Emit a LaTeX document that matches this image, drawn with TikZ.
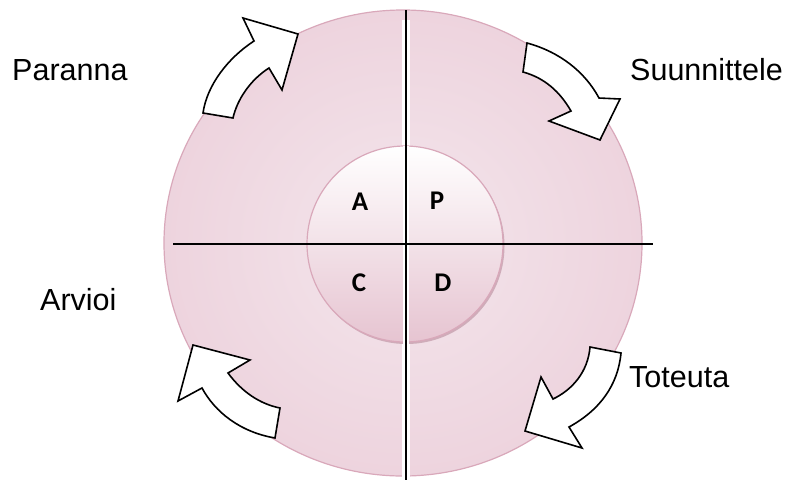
\documentclass[tikz,border=0pt]{standalone}
\usepackage{fontspec}
\setmainfont{Liberation Sans}
\newfontfamily\calib{Carlito}
\definecolor{pinkedge}{HTML}{D9A8BA}
\definecolor{pinkdark}{HTML}{E4BCCB}
\definecolor{pinkmid}{HTML}{ECD0DB}
\definecolor{pinklight}{HTML}{F4E6EC}
\definecolor{innerbot}{HTML}{E6C4D1}
\pgfdeclareradialshading{bigrad}{\pgfpoint{0bp}{0bp}}{color(0bp)=(pinklight); color(30bp)=(pinkmid); color(50bp)=(pinkdark); color(72bp)=(pinkdark)}
\tikzset{
  blockarrow/.style={draw=black, fill=white, line width=1.6pt, line join=miter},
  axis/.style={draw=black, line width=1.6pt},
  lbl/.style={font=\fontsize{30.5}{36}\selectfont, inner sep=0pt, anchor=base west},
  letter/.style={font=\calib\bfseries\fontsize{27}{32}\selectfont, inner sep=0pt}
}
\begin{document}
\begin{tikzpicture}[x=1pt,y=-1pt]
\useasboundingbox (0,0) rectangle (789,480);
% big disc
\shade[shading=bigrad] (403,243) ellipse [x radius=239, y radius=233];
\draw[pinkedge, line width=1.2pt] (403,243) ellipse [x radius=239, y radius=233];
% white gap along vertical axis
\fill[white] (402,20) rectangle (410,478);
% inner disc with shadow
\fill[pinkedge!90!black!80] (406.5,246) circle [radius=98];
\shade[top color=white, bottom color=innerbot] (405,244) circle [radius=98];
\draw[pinkedge, line width=1.2pt] (405,244) circle [radius=98];
\fill[white] (403,146) rectangle (409,344);
% axes
\coordinate (vt) at (406,10);
\coordinate (vb) at (406,480);
\coordinate (hl) at (173,244);
\coordinate (hr) at (653,244);
\draw[axis] (vt) -- (vb);
\draw[axis] (hl) -- (hr);
% letters
\node[letter] (A) at (360,202) {A};
\node[letter] (P) at (437,201) {P};
\node[letter] (C) at (359,283) {C};
\node[letter] (D) at (443,283) {D};
% labels
\node[lbl] (paranna) at (12,80) {Paranna};
\node[lbl] (suunn) at (630,80) {Suunnittele};
\node[lbl] (arvioi) at (40,310) {Arvioi};
\node[lbl] (toteuta) at (629,387) {Toteuta};
% curved block arrows
\path[blockarrow] (203,113) .. controls (207,85) and (228,58) .. (254,41)
  -- (243,18) -- (298,34) -- (282,90) -- (269,68)
  .. controls (250,80) and (237,100) .. (233,118) -- cycle;
\path[blockarrow] (527,43) .. controls (560,52) and (585,72) .. (599,98)
  -- (620,99) -- (600,140) -- (549,121) -- (571,111)
  .. controls (560,92) and (545,78) .. (523,72) -- cycle;
\path[blockarrow] (193,345) -- (250,360) -- (228,373)
  .. controls (242,392) and (260,404) .. (280,408) -- (275,438)
  .. controls (240,432) and (215,412) .. (202,388) -- (178,401) -- cycle;
\path[blockarrow] (590,347) .. controls (588,372) and (572,390) .. (553,399)
  -- (541,377) -- (525,431) -- (582,448) -- (569,427)
  .. controls (600,410) and (618,385) .. (621,353) -- cycle;
\end{tikzpicture}
\end{document}
